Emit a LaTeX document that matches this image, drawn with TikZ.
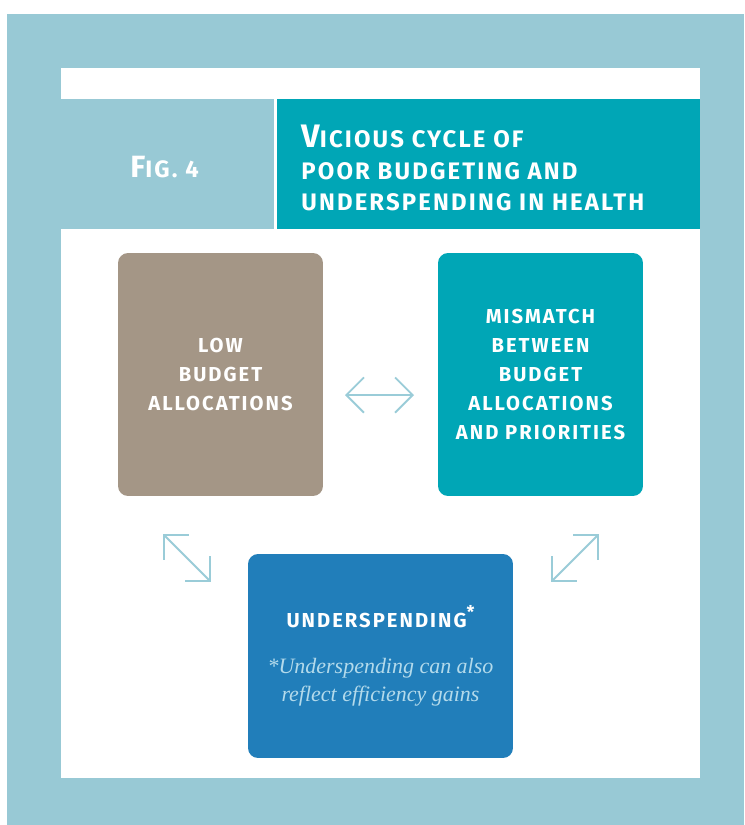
\documentclass[tikz,border=0pt]{standalone}
\usepackage{fontspec}
\usetikzlibrary{arrows.meta}
\newfontfamily\capsfont{Fira Sans}[LetterSpace=10]
\newfontfamily\titlefont{Fira Sans}[LetterSpace=9]
\newfontfamily\notefont{Liberation Serif}
\definecolor{framebl}{RGB}{152,201,213}
\definecolor{titleteal}{RGB}{0,166,182}
\definecolor{taupe}{RGB}{164,150,134}
\definecolor{spendbl}{RGB}{33,126,186}
\definecolor{arrowbl}{RGB}{154,204,216}
\definecolor{notebl}{RGB}{179,218,235}
\newcommand\notestyle{\notefont\mdseries\itshape\fontsize{12.5}{16}\selectfont\color{notebl}}
\begin{document}
\begin{tikzpicture}[x=0.02cm,y=-0.02cm,
    cyclebox/.style={rounded corners=5.7pt, inner sep=0pt, text=white, align=center,
      font=\capsfont\bfseries\fontsize{11.5}{16.4}\selectfont},
    cyclearrow/.style={draw=arrowbl, line width=1.1pt,
      {Straight Barb[length=10pt,width=20pt]}-{Straight Barb[length=10pt,width=20pt]}}]
  \fill[white] (0,0) rectangle (744,825);
  \fill[framebl] (7,14) rectangle (744,825);
  \fill[white] (61,68) rectangle (700,778);
  \fill[framebl] (61,99) rectangle (274,229);
  \fill[titleteal] (277,99) rectangle (700,229);
  \node[anchor=base west, inner sep=0pt, text=white, font=\titlefont\bfseries] (fig) at (130,177)
    {{\fontsize{17.5}{17.5}\selectfont F}{\fontsize{13.5}{13.5}\selectfont IG.~4}};
  \node[anchor=west, inner sep=0pt, text=white, align=left,
    font=\titlefont\bfseries\fontsize{13.6}{17.9}\selectfont] (title) at (301,168)
    {{\fontsize{18.5}{17.9}\selectfont V}ICIOUS CYCLE OF\\POOR BUDGETING AND\\UNDERSPENDING IN HEALTH};

  \node[cyclebox, fill=taupe, minimum width=4.1cm, minimum height=4.86cm] (low) at (220.5,374.5)
    {LOW\\BUDGET\\ALLOCATIONS};
  \node[cyclebox, fill=titleteal, minimum width=4.1cm, minimum height=4.86cm] (mismatch) at (540.5,374.5)
    {MISMATCH\\BETWEEN\\BUDGET\\ALLOCATIONS\\AND PRIORITIES};
  \node[cyclebox, fill=spendbl, minimum width=5.3cm, minimum height=4.08cm,
    font=\capsfont\bfseries\fontsize{11.5}{16}\selectfont] (under) at (380.5,656)
    {UNDERSPENDING\raisebox{0.45em}{\fontsize{10}{10}\selectfont*}\\[10pt]
     \notestyle *Underspending can also\\
     \notestyle reflect efficiency gains};

  \coordinate (lm-a) at (345,395);
  \coordinate (lm-b) at (414,395);
  \coordinate (lu-a) at (163,534);
  \coordinate (lu-b) at (211,582);
  \coordinate (mu-a) at (599,534);
  \coordinate (mu-b) at (551,582);
  \foreach \a/\b in {lm-a/lm-b,lu-a/lu-b,mu-a/mu-b}{
    \draw[cyclearrow] (\a) -- (\b);
  }
\end{tikzpicture}
\end{document}
